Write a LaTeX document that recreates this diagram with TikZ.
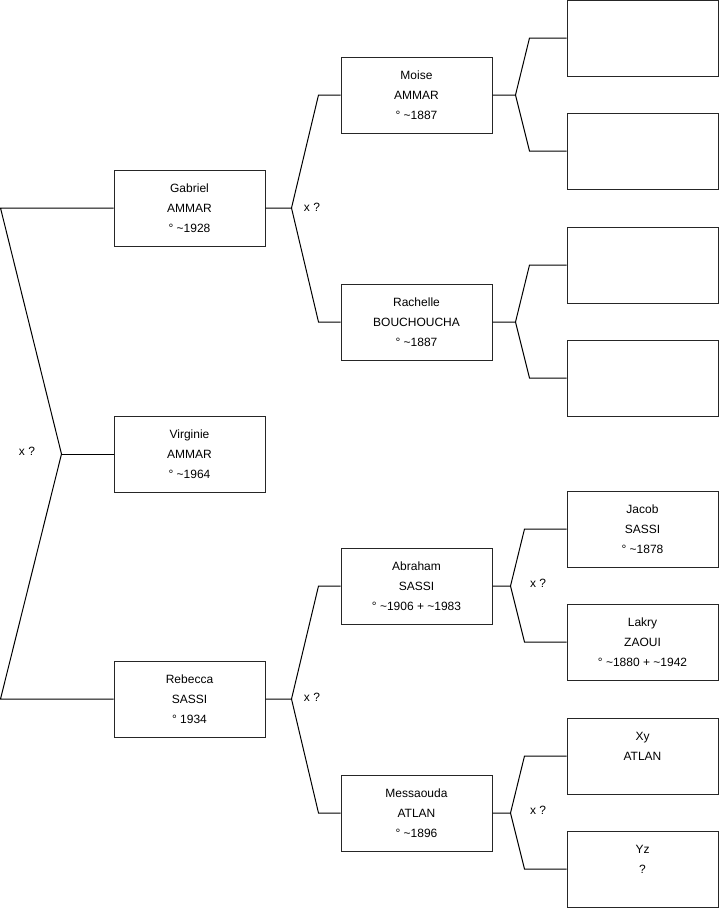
\documentclass[tikz,border=0pt]{standalone}
\usepackage{fontspec}
\setmainfont{Liberation Sans}
\usepackage{tikz}
\usetikzlibrary{calc}

% one fork of the tree: parent, upper child, lower child, stub, end offset
\newcommand{\forkto}[5]{%
  \draw[link] (#1.east) -- ++(#4,0) coordinate (#1-f)
    -- ([xshift=-#5]#2.west) -- (#2.west);
  \draw[link] (#1-f) -- ([xshift=-#5]#3.west) -- (#3.west);}

\begin{document}
\begin{tikzpicture}[
    x=1pt, y=-1pt,
    person/.style={rectangle, draw=black!85, line width=1pt, fill=white,
                   minimum width=151pt, minimum height=76pt, inner sep=0pt,
                   align=center, font=\fontsize{12}{20}\selectfont},
    link/.style={draw=black, line width=1pt},
    union/.style={font=\fontsize{12}{14}\selectfont, inner sep=0pt}
  ]
    \useasboundingbox (0,0) rectangle (719,908);

    % generation 1
    \node[person] (gab) at (189.5,208) {Gabriel\\AMMAR\\° \textasciitilde1928};
    \node[person] (vir) at (189.5,454) {Virginie\\AMMAR\\° \textasciitilde1964};
    \node[person] (reb) at (189.5,699) {Rebecca\\SASSI\\° 1934};

    % generation 2
    \node[person] (moi) at (416.5,95)  {Moise\\AMMAR\\° \textasciitilde1887};
    \node[person] (rac) at (416.5,322) {Rachelle\\BOUCHOUCHA\\° \textasciitilde1887};
    \node[person] (abr) at (416.5,586) {Abraham\\SASSI\\° \textasciitilde1906 + \textasciitilde1983};
    \node[person] (mes) at (416.5,813) {Messaouda\\ATLAN\\° \textasciitilde1896};

    % generation 3
    \node[person] (moi-p) at (642.5,38)  {};
    \node[person] (moi-m) at (642.5,151) {};
    \node[person] (rac-p) at (642.5,265) {};
    \node[person] (rac-m) at (642.5,378) {};
    \node[person] (jac)   at (642.5,529) {Jacob\\SASSI\\° \textasciitilde1878};
    \node[person] (lak)   at (642.5,642) {Lakry\\ZAOUI\\° \textasciitilde1880 + \textasciitilde1942};
    \node[person] (xy)    at (642.5,756) {Xy\\ATLAN\\\mbox{}};
    \node[person] (yz)    at (642.5,869) {Yz\\?\\\mbox{}};

    % root fork
    \coordinate (root) at ([xshift=-52]vir.west);
    \draw[link] (gab.west) -- ([xshift=-113]gab.west) -- (root)
      -- ([xshift=-113]reb.west) -- (reb.west);
    \draw[link] (root) -- (vir.west);
    \node[union] (u0) at (27,451) {x ?};

    % parents forks
    \forkto{gab}{moi}{rac}{26}{22}
    \forkto{reb}{abr}{mes}{26}{22}
    \forkto{moi}{moi-p}{moi-m}{23}{37}
    \forkto{rac}{rac-p}{rac-m}{23}{37}
    \forkto{abr}{jac}{lak}{18}{42}
    \forkto{mes}{xy}{yz}{18}{42}

    \node[union] (u1) at (312,207) {x ?};
    \node[union] (u2) at (312,697) {x ?};
    \node[union] (u3) at (538,583) {x ?};
    \node[union] (u4) at (538,810) {x ?};

  \end{tikzpicture}
\end{document}
